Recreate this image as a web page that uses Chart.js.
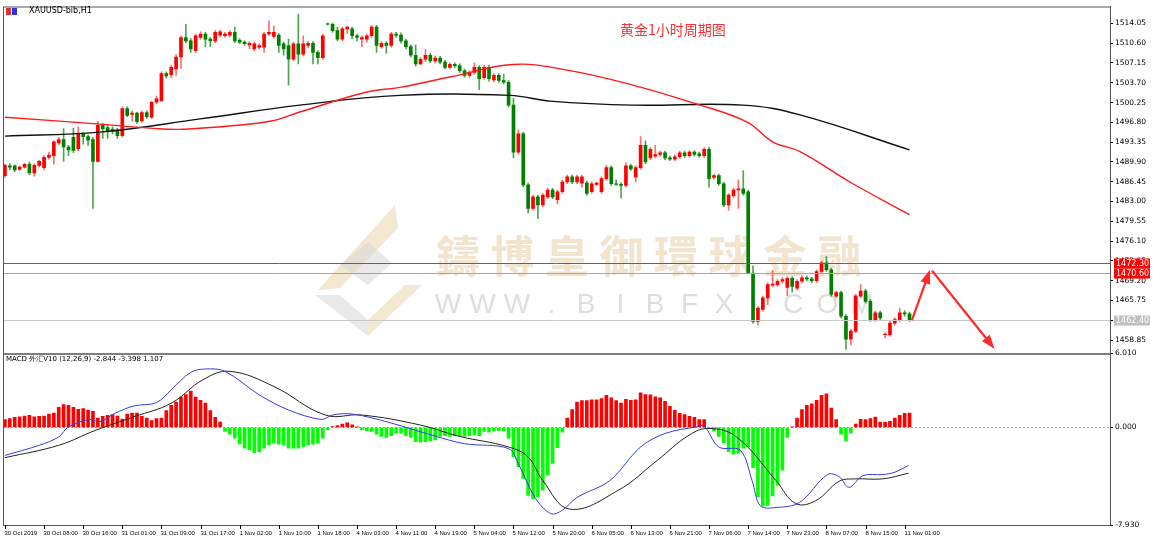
<!DOCTYPE html>
<html>
<head>
<meta charset="utf-8">
<script src="https://cdn.jsdelivr.net/npm/chart.js@4.4.1/dist/chart.umd.min.js"></script>
<style>
  body { margin: 0; background: #fff; width: 1170px; height: 542px; overflow: hidden; }
  canvas { position: absolute; left: 0; }
  #price { top: 0; }
  #macd { top: 347px; }
</style>
</head>
<body>
<canvas id="price" width="1170" height="360"></canvas>
<canvas id="macd" width="1170" height="195"></canvas>
<script>
// -----------------------------
// Data (XAUUSD H1)
// -----------------------------
const open = [
  1487.5,1489.2,1489.2,1488.6,1489.0,1489.5,1488.0,1489.3,1488.9,1490.7,1491.0,1493.2,1493.8,1492.5,1494.2,1492.2,1494.8,1494.3,1493.8,1490.0,
  1496.3,1495.9,1495.6,1495.5,1494.5,1499.2,1498.2,1498.4,1497.1,1498.5,1497.7,1500.3,1500.6,1505.3,1505.1,1506.1,1508.2,1511.6,1511.0,1509.3,
  1511.6,1512.2,1511.3,1511.0,1512.0,1511.9,1512.0,1512.5,1511.1,1510.8,1510.3,1509.6,1509.9,1509.9,1512.2,1511.8,1512.0,1510.5,1510.2,1507.8,
  1510.5,1508.7,1510.2,1510.6,1509.0,1508.1,1514.0,1513.9,1512.8,1511.3,1513.1,1513.1,1511.9,1511.3,1511.3,1511.9,1513.4,1510.0,1510.6,1510.2,
  1512.2,1512.0,1511.0,1510.0,1508.5,1507.0,1507.8,1508.5,1507.5,1508.0,1507.3,1506.4,1506.9,1506.7,1505.8,1505.0,1505.5,1506.4,1504.6,1506.4,
  1504.2,1505.0,1504.1,1503.8,1499.8,1491.6,1494.8,1485.9,1481.8,1483.8,1482.4,1483.8,1485.0,1483.3,1484.7,1486.4,1487.3,1486.4,1486.2,1486.2,
  1484.7,1486.0,1484.7,1487.0,1488.9,1486.1,1486.0,1485.8,1489.2,1487.3,1488.9,1492.8,1490.6,1490.9,1491.2,1491.5,1490.6,1490.4,1490.8,1491.5,
  1491.0,1491.6,1491.3,1491.0,1492.1,1487.2,1487.5,1486.1,1482.4,1484.0,1485.0,1485.2,1484.7,1470.5,1462.1,1464.2,1466.2,1468.4,1468.5,1469.1,
  1468.0,1469.6,1467.9,1469.1,1469.7,1469.5,1469.2,1470.8,1472.3,1471.1,1466.5,1467.1,1463.0,1459.0,1460.4,1466.5,1467.4,1465.6,1462.4,1463.6,
  1459.8,1459.8,1461.8,1462.4,1463.6,1463.4
];
const high = [
  1489.5,1489.6,1489.4,1489.2,1489.7,1489.9,1489.6,1490.2,1491.0,1491.6,1493.6,1494.2,1495.7,1492.8,1495.8,1496.0,1495.0,1494.6,1494.2,1497.0,
  1496.6,1496.3,1496.0,1495.8,1499.5,1499.5,1498.8,1498.6,1498.8,1498.8,1500.5,1501.4,1505.6,1505.6,1506.8,1508.6,1511.9,1513.9,1511.4,1512.2,
  1512.6,1512.5,1511.6,1512.8,1512.9,1512.5,1512.8,1513.4,1511.4,1511.0,1510.9,1510.8,1510.5,1512.5,1514.5,1513.6,1512.3,1510.8,1511.3,1510.8,
  1515.7,1511.9,1510.9,1510.9,1509.3,1512.2,1514.1,1514.1,1513.4,1513.4,1513.6,1513.4,1512.2,1511.9,1512.2,1513.7,1513.7,1510.9,1510.9,1512.5,
  1512.5,1512.4,1511.3,1510.3,1510.3,1508.1,1509.5,1508.9,1508.4,1508.3,1507.6,1507.2,1507.2,1507.0,1506.1,1505.8,1507.2,1506.7,1506.8,1506.8,
  1505.3,1505.3,1505.2,1504.1,1501.0,1495.5,1495.1,1486.2,1484.1,1484.1,1484.4,1485.3,1485.3,1485.0,1486.7,1487.6,1487.6,1487.6,1487.6,1486.5,
  1486.4,1486.4,1487.3,1489.3,1489.2,1486.8,1486.3,1489.8,1489.5,1489.2,1494.3,1493.6,1492.4,1492.8,1491.8,1491.8,1490.9,1491.1,1491.8,1491.8,
  1491.9,1491.9,1491.6,1492.4,1492.5,1487.8,1487.8,1486.4,1484.4,1485.3,1486.8,1488.4,1485.0,1471.8,1464.7,1466.5,1468.8,1471.0,1469.4,1469.8,
  1469.9,1469.9,1469.4,1470.0,1470.0,1469.8,1471.1,1472.6,1473.4,1471.4,1467.4,1467.4,1463.3,1460.7,1466.8,1468.5,1467.7,1465.9,1463.9,1463.9,
  1460.1,1462.1,1462.7,1464.4,1464.0,1463.7
];
const low = [
  1487.2,1488.5,1488.2,1488.4,1488.8,1487.7,1487.4,1489.0,1488.5,1490.4,1489.5,1492.9,1490.0,1491.0,1491.5,1491.8,1493.0,1492.8,1481.8,1489.9,
  1494.0,1494.0,1494.8,1494.0,1494.2,1497.8,1497.0,1496.6,1496.8,1497.5,1497.4,1500.0,1500.4,1504.5,1504.6,1505.0,1506.2,1510.7,1509.0,1509.0,
  1511.3,1510.0,1510.0,1510.7,1511.7,1511.6,1511.7,1510.7,1510.5,1510.2,1509.6,1509.3,1509.6,1509.0,1511.9,1511.5,1509.0,1508.5,1503.3,1507.5,
  1507.0,1508.4,1509.8,1507.0,1507.0,1507.8,1513.8,1512.5,1511.0,1511.0,1512.3,1511.4,1511.0,1510.0,1510.8,1511.6,1509.0,1509.7,1508.8,1509.9,
  1511.6,1510.6,1509.6,1508.2,1506.6,1506.8,1507.4,1507.2,1507.1,1507.0,1506.1,1506.1,1506.3,1505.5,1504.7,1504.7,1505.2,1502.5,1504.3,1504.0,
  1503.9,1503.8,1503.5,1499.5,1490.6,1491.3,1485.6,1481.0,1481.5,1480.0,1482.1,1483.5,1483.5,1482.6,1484.4,1486.1,1486.1,1486.1,1485.5,1484.1,
  1484.4,1485.8,1484.4,1486.7,1485.8,1485.8,1483.6,1485.5,1488.4,1486.4,1488.6,1489.6,1490.3,1490.6,1490.9,1490.3,1490.1,1490.1,1490.5,1490.7,
  1490.7,1490.9,1490.7,1490.7,1485.5,1486.9,1485.8,1482.1,1481.5,1483.7,1481.8,1484.1,1470.5,1461.8,1461.5,1463.9,1465.0,1468.1,1468.2,1468.8,
  1466.6,1467.2,1467.6,1468.8,1469.2,1468.8,1468.9,1470.5,1470.8,1466.5,1466.2,1462.7,1457.2,1458.0,1460.1,1466.2,1465.3,1462.1,1462.1,1462.4,
  1459.2,1459.5,1461.5,1462.1,1463.0,1462.1
];
const close = [
  1489.3,1489.0,1488.5,1489.0,1489.5,1488.0,1489.3,1490.0,1490.7,1491.1,1493.4,1493.8,1492.5,1492.0,1491.9,1494.8,1494.3,1493.7,1490.0,1496.3,
  1495.7,1495.3,1495.2,1494.5,1499.2,1498.0,1498.4,1496.9,1498.5,1497.8,1500.3,1500.9,1505.3,1504.9,1506.4,1508.2,1511.6,1511.0,1509.6,1511.9,
  1512.2,1511.3,1511.0,1512.5,1512.6,1512.2,1512.5,1511.0,1510.8,1510.5,1510.6,1510.5,1510.2,1512.2,1512.5,1512.5,1510.2,1509.6,1507.8,1510.5,
  1508.7,1510.5,1510.6,1509.0,1508.1,1511.9,1513.9,1512.8,1511.3,1513.1,1513.4,1511.9,1511.6,1511.6,1511.9,1513.4,1510.2,1510.6,1510.2,1512.2,
  1512.0,1511.0,1510.0,1508.5,1507.0,1507.8,1508.5,1507.5,1508.0,1507.3,1506.4,1506.9,1506.7,1505.8,1505.0,1505.5,1506.4,1504.4,1506.4,1504.4,
  1505.0,1504.1,1503.8,1499.8,1491.6,1494.8,1485.9,1481.8,1483.8,1482.4,1484.1,1485.0,1483.8,1484.7,1486.4,1487.3,1486.4,1487.3,1487.3,1484.4,
  1486.1,1486.2,1487.0,1488.9,1486.1,1486.0,1485.8,1489.2,1488.7,1488.9,1492.8,1489.9,1492.1,1491.2,1491.5,1490.6,1490.4,1490.8,1491.5,1491.0,
  1491.6,1491.2,1491.0,1492.1,1487.0,1487.5,1486.1,1482.4,1484.1,1485.0,1485.2,1484.4,1470.5,1462.1,1464.4,1466.2,1468.5,1468.6,1469.1,1469.4,
  1469.6,1468.2,1469.1,1469.7,1469.5,1469.2,1470.8,1472.3,1471.1,1466.8,1467.1,1463.0,1459.0,1460.4,1466.5,1467.4,1465.6,1462.4,1463.6,1462.7,
  1459.9,1461.8,1462.4,1463.6,1463.4,1462.4
];

// moving averages, points
const maRedIdx = [0, 19.4, 29.6, 36.4, 53.6, 60.3, 74, 80.8, 91, 103.9, 115, 128.4, 140.7, 151.7, 157, 162.6, 172.8, 185];
const maRedVal = [1497.7, 1496.5, 1495.8, 1495.6, 1496.9, 1498.6, 1502.1, 1502.9, 1504.7, 1506.9, 1505.9, 1503.3, 1500.2, 1496.9, 1493.4, 1491.7, 1486.4, 1480.7];
const maBlackIdx = [0, 19.4, 39.9, 60.3, 80.8, 103.3, 111.5, 128.4, 150.9, 162.6, 185];
const maBlackVal = [1494.4, 1495.1, 1497.4, 1499.8, 1501.5, 1501.5, 1500.5, 1499.8, 1499.8, 1498.1, 1492.0];

// MACD
const macdHist = [
  0.63,0.71,0.82,0.87,0.93,0.98,0.87,0.90,0.93,1.09,1.17,1.64,1.86,1.80,1.64,1.47,1.53,1.42,1.31,0.76,
  0.90,0.98,1.04,0.93,0.68,1.09,1.17,1.17,0.90,0.76,0.55,0.71,0.76,1.37,1.80,2.07,2.46,2.68,2.95,2.46,
  2.21,1.99,1.37,0.82,0.44,-0.33,-0.55,-0.87,-1.34,-1.69,-1.83,-2.05,-1.97,-1.69,-1.42,-1.28,-1.37,-1.42,-1.69,-1.69,
  -1.69,-1.56,-1.42,-1.37,-1.28,-0.87,-0.19,0.08,0.16,0.27,0.38,0.22,0.02,-0.19,-0.27,-0.33,-0.55,-0.74,-0.82,-0.66,
  -0.46,-0.46,-0.66,-0.82,-1.15,-1.20,-1.15,-1.09,-1.01,-0.74,-0.66,-0.74,-0.66,-0.66,-0.74,-0.66,-0.60,-0.66,-0.33,-0.38,
  -0.27,-0.27,-0.27,-0.87,-2.38,-3.19,-4.15,-5.52,-5.79,-5.65,-5.10,-3.88,-2.92,-1.64,-0.38,0.76,1.45,2.07,2.18,2.18,
  2.24,2.24,2.35,2.62,2.40,2.18,1.99,2.29,2.21,2.24,2.81,2.68,2.65,2.48,2.40,2.13,1.72,1.39,1.15,1.04,
  0.90,0.82,0.63,0.63,-0.05,-0.27,-0.74,-1.23,-1.97,-2.18,-2.10,-1.69,-1.56,-3.28,-5.65,-6.39,-6.33,-5.57,-4.70,-3.47,
  -0.82,0.02,0.76,1.45,1.80,1.91,2.21,2.62,2.73,1.58,0.63,-0.55,-1.09,-0.46,0.27,0.66,0.63,0.71,0.85,0.44,
  0.44,0.49,0.76,0.98,1.15,1.17
];
const macdMainIdx = [0, 7, 11, 13, 17.4, 19.4, 22.5, 26.4, 31, 34, 38, 41, 45, 52, 58, 64.7, 67, 71, 78.8, 88, 94, 103, 105, 108.4, 111.6, 114, 117, 123.7, 130, 135, 141.5, 143, 146, 150.4, 152.8, 154.5, 157.7, 162.5, 168.2, 170.6, 172.6, 175.5, 179.5, 182, 184.8];
const macdMainVal = [-2.27, -1.45, -0.77, 0.05, 0.65, 0.46, 1.15, 1.75, 2.02, 3.06, 4.48, 4.75, 4.56, 2.65, 1.42, 0.65, 1.01, 1.09, 0.38, -0.71, -1.32, -1.72, -2.95, -5.69, -7.0, -6.73, -5.69, -4.32, -1.59, -0.49, 0.05, 0.11, -1.59, -1.86, -4.32, -6.37, -6.51, -6.10, -3.83, -4.0, -4.87, -3.91, -3.83, -3.64, -3.09];
const macdSignalIdx = [0, 11, 18.6, 26.4, 34, 40.5, 46, 55, 65.5, 73, 85, 92.8, 103, 107, 110, 115.5, 125.3, 133.4, 139.9, 144, 149.6, 157.7, 161.7, 165.8, 170.6, 173.9, 179.5, 184.8];
const macdSignalVal = [-2.46, -1.45, -0.22, 0.87, 1.97, 3.88, 4.56, 3.33, 1.01, 1.01, 0.19, -0.71, -1.59, -2.41, -4.32, -6.64, -5.14, -2.68, -0.63, -0.08, -0.77, -4.32, -6.18, -5.96, -4.38, -4.18, -4.18, -3.72];

// axis ticks
const priceTicks = [1514.05, 1510.60, 1507.15, 1503.70, 1500.25, 1496.80, 1493.35, 1489.90, 1486.45, 1483.00, 1479.55, 1476.10, 1472.65, 1469.20, 1465.75, 1462.30, 1458.85];
const timeLabels = ["30 Oct 2019", "30 Oct 08:00", "30 Oct 16:00", "31 Oct 01:00", "31 Oct 09:00", "31 Oct 17:00", "1 Nov 02:00", "1 Nov 10:00", "1 Nov 18:00", "4 Nov 03:00", "4 Nov 11:00", "4 Nov 19:00", "5 Nov 04:00", "5 Nov 12:00", "5 Nov 20:00", "6 Nov 05:00", "6 Nov 13:00", "6 Nov 21:00", "7 Nov 06:00", "7 Nov 14:00", "7 Nov 23:00", "8 Nov 07:00", "8 Nov 15:00", "11 Nov 01:00"];
const timeIdx = [0, 8, 16, 24, 32, 40, 48, 56, 64, 72, 80, 88, 96, 104, 112, 120, 128, 136, 144, 152, 160, 168, 176, 184];

// levels and projection arrows
const levels = [
  { price: 1472.30, color: "#ff2020", label: "1472.30", box: "#ff0000" },
  { price: 1470.60, color: "#ff8080", label: "1470.60", box: "#ff0000" },
  { price: 1462.40, color: "#c8c8c8", label: "1462.40", box: "#c0c0c0" }
];
const arrowIdx = [185.5, 189.2, 202.4];
const arrowVal = [1462.3, 1471.1, 1457.3];

const X_MIN = -0.4, X_MAX = 226;
const UP = "#ff0000", DOWN = "#008000";
const FONT = "'DejaVu Sans', sans-serif";

// -----------------------------
// Helpers
// -----------------------------
function pts(xs, ys) {
  return xs.map((x, i) => ({ x: x, y: ys[i] }));
}

function fixedWidth(w) {
  return s => { s.width = w; };
}

function drawArrow(ctx, x1, y1, x2, y2) {
  const ang = Math.atan2(y2 - y1, x2 - x1);
  const len = 14, wid = 5;
  ctx.beginPath();
  ctx.moveTo(x1, y1);
  ctx.lineTo(x2 - Math.cos(ang) * len * 0.7, y2 - Math.sin(ang) * len * 0.7);
  ctx.stroke();
  ctx.beginPath();
  ctx.moveTo(x2, y2);
  ctx.lineTo(x2 - Math.cos(ang) * len + Math.sin(ang) * wid, y2 - Math.sin(ang) * len - Math.cos(ang) * wid);
  ctx.lineTo(x2 - Math.cos(ang) * len - Math.sin(ang) * wid, y2 - Math.sin(ang) * len + Math.cos(ang) * wid);
  ctx.closePath();
  ctx.fill();
}

// -----------------------------
// Price panel
// -----------------------------
const candleColors = close.map((c, i) => (c >= open[i] ? UP : DOWN));
const wickColors = close.map((c, i) => (c >= open[i] ? "rgba(255,60,60,0.75)" : "rgba(0,128,0,0.7)"));

const decorPlugin = {
  id: "decor",
  beforeDatasetsDraw(chart) {
    const ctx = chart.ctx;
    ctx.save();
    // logo
    ctx.fillStyle = "rgba(236,214,170,0.55)";
    ctx.beginPath();
    ctx.moveTo(395, 205); ctx.lineTo(398, 228); ctx.lineTo(340, 288); ctx.lineTo(318, 290);
    ctx.closePath(); ctx.fill();
    ctx.fillStyle = "rgba(215,215,215,0.55)";
    ctx.beginPath();
    ctx.moveTo(315, 295); ctx.lineTo(368, 336); ctx.lineTo(368, 320); ctx.lineTo(340, 295);
    ctx.closePath(); ctx.fill();
    ctx.beginPath();
    ctx.moveTo(340, 265); ctx.lineTo(368, 242); ctx.lineTo(392, 263); ctx.lineTo(368, 285);
    ctx.closePath(); ctx.fill();
    ctx.fillStyle = "rgba(236,214,170,0.55)";
    ctx.beginPath();
    ctx.moveTo(368, 320); ctx.lineTo(368, 336); ctx.lineTo(422, 285); ctx.lineTo(405, 285);
    ctx.closePath(); ctx.fill();
    // watermark text
    ctx.fillStyle = "rgba(232,205,165,0.55)";
    ctx.font = "bold 44px 'Noto Sans CJK TC', sans-serif";
    ctx.textBaseline = "middle";
    ctx.textAlign = "center";
    const wm = "鑄博皇御環球金融";
    for (let i = 0; i < wm.length; i++) ctx.fillText(wm[i], 458 + i * 54.5, 256);
    ctx.fillStyle = "rgba(200,200,200,0.6)";
    ctx.font = "28px 'Liberation Sans', sans-serif";
    const url = "WWW.BIBFX.COM";
    for (let i = 0; i < url.length; i++) ctx.fillText(url[i], 448 + i * 34.5, 305);
    ctx.restore();
  },
  afterDatasetsDraw(chart) {
    const ctx = chart.ctx;
    const a = chart.chartArea;
    const xs = chart.scales.x, ys = chart.scales.y;
    ctx.save();
    // level lines
    levels.forEach(l => {
      const y = Math.round(ys.getPixelForValue(l.price)) + 0.5;
      ctx.strokeStyle = l.color;
      ctx.lineWidth = 1;
      ctx.beginPath(); ctx.moveTo(a.left, y); ctx.lineTo(a.right, y); ctx.stroke();
      ctx.fillStyle = l.box;
      ctx.fillRect(a.right + 4, y - 5, 36, 10);
      ctx.fillStyle = "#fff";
      ctx.font = "8px " + FONT;
      ctx.textAlign = "left";
      ctx.textBaseline = "middle";
      ctx.fillText(l.label, a.right + 6, y);
    });
    // projection arrows
    ctx.strokeStyle = "#ff2a2a";
    ctx.fillStyle = "#ff2a2a";
    ctx.lineWidth = 2.2;
    const p = arrowIdx.map((x, i) => [xs.getPixelForValue(x), ys.getPixelForValue(arrowVal[i])]);
    drawArrow(ctx, p[0][0], p[0][1], p[1][0], p[1][1]);
    drawArrow(ctx, p[1][0] + 2, p[1][1] + 1, p[2][0], p[2][1]);
    // frame
    ctx.strokeStyle = "#555";
    ctx.lineWidth = 1;
    ctx.strokeRect(a.left + 0.5, a.top + 0.5, a.right - a.left, a.bottom - a.top);
    // header texts
    ctx.fillStyle = "#d33";
    ctx.fillRect(6, 8, 5, 7);
    ctx.fillStyle = "#33d";
    ctx.fillRect(12, 8, 5, 7);
    ctx.fillStyle = "#000";
    ctx.font = "8px " + FONT;
    ctx.textAlign = "left";
    ctx.textBaseline = "middle";
    ctx.fillText("XAUUSD-bib,H1", 29, 11);
    ctx.fillStyle = "#ff3030";
    ctx.font = "14px 'Noto Sans CJK SC', sans-serif";
    ctx.fillText("黄金1小时周期图", 620, 30);
    ctx.restore();
  }
};

new Chart(document.getElementById("price"), {
  type: "bar",
  data: {
    datasets: [
      {
        type: "line", data: pts(maRedIdx, maRedVal), borderColor: "#ff1a1a", borderWidth: 1.4,
        pointRadius: 0, tension: 0.4, order: 0
      },
      {
        type: "line", data: pts(maBlackIdx, maBlackVal), borderColor: "#111", borderWidth: 1.4,
        pointRadius: 0, tension: 0.4, order: 0
      },
      {
        data: close.map((c, i) => ({ x: i, y: [open[i], c] })), backgroundColor: candleColors,
        barThickness: 3, grouped: false, order: 1
      },
      {
        data: close.map((c, i) => ({ x: i, y: [low[i], high[i]] })), backgroundColor: wickColors,
        barThickness: 1, grouped: false, order: 2
      }
    ]
  },
  options: {
    responsive: false,
    animation: false,
    layout: { padding: { left: 3, top: 4, right: 0, bottom: 1 } },
    plugins: { legend: { display: false }, tooltip: { enabled: false } },
    scales: {
      x: { type: "linear", min: X_MIN, max: X_MAX, offset: false, display: false },
      y: {
        position: "right", min: 1456.5, max: 1517.0,
        afterFit: fixedWidth(60),
        afterBuildTicks: s => { s.ticks = priceTicks.map(v => ({ value: v })); },
        ticks: { color: "#000", font: { size: 7.5, family: FONT }, padding: 2, callback: v => v.toFixed(2) },
        grid: { drawOnChartArea: false, drawTicks: true, tickLength: 3, color: "#000" },
        border: { display: true, color: "#000" }
      }
    }
  },
  plugins: [decorPlugin]
});

// -----------------------------
// MACD panel
// -----------------------------
const macdPlugin = {
  id: "macdDecor",
  beforeDatasetsDraw(chart) {
    const ctx = chart.ctx;
    const a = chart.chartArea;
    const y0 = Math.round(chart.scales.y.getPixelForValue(0)) + 0.5;
    ctx.save();
    ctx.strokeStyle = "#aaa";
    ctx.setLineDash([2, 2]);
    ctx.beginPath(); ctx.moveTo(a.left, y0); ctx.lineTo(a.right, y0); ctx.stroke();
    ctx.restore();
  },
  afterDatasetsDraw(chart) {
    const ctx = chart.ctx;
    const a = chart.chartArea;
    const xs = chart.scales.x;
    ctx.save();
    ctx.strokeStyle = "#555";
    ctx.lineWidth = 1;
    ctx.strokeRect(a.left + 0.5, a.top + 0.5, a.right - a.left, a.bottom - a.top);
    ctx.fillStyle = "#000";
    ctx.font = "7px " + FONT;
    ctx.textAlign = "left";
    ctx.textBaseline = "middle";
    ctx.fillText("MACD 外汇V10 (12,26,9) -2.844 -3.398 1.107", a.left + 3, a.top + 6);
    // time labels
    ctx.textBaseline = "top";
    ctx.strokeStyle = "#000";
    ctx.font = "6px 'Liberation Sans', sans-serif";
    timeIdx.forEach((idx, i) => {
      const x = Math.round(xs.getPixelForValue(idx)) + 0.5;
      ctx.beginPath(); ctx.moveTo(x, a.bottom); ctx.lineTo(x, a.bottom + 4); ctx.stroke();
      ctx.fillText(timeLabels[i], x - 1, a.bottom + 5);
    });
    ctx.restore();
  }
};

new Chart(document.getElementById("macd"), {
  type: "bar",
  data: {
    datasets: [
      {
        type: "line", data: pts(macdMainIdx, macdMainVal), borderColor: "#3a3ae0", borderWidth: 1,
        pointRadius: 0, tension: 0.35, order: 0
      },
      {
        type: "line", data: pts(macdSignalIdx, macdSignalVal), borderColor: "#222", borderWidth: 1,
        pointRadius: 0, tension: 0.4, order: 0
      },
      {
        data: macdHist.map((v, i) => ({ x: i, y: v })),
        backgroundColor: macdHist.map(v => (v >= 0 ? "#ff0000" : "#00ff00")),
        barThickness: 3, grouped: false, order: 1
      }
    ]
  },
  options: {
    responsive: false,
    animation: false,
    layout: { padding: { left: 3, top: 0, right: 0, bottom: 0 } },
    plugins: { legend: { display: false }, tooltip: { enabled: false } },
    scales: {
      x: {
        type: "linear", min: X_MIN, max: X_MAX, offset: false,
        afterFit: s => { s.height = 17; },
        ticks: { display: false },
        grid: { display: false },
        border: { display: false }
      },
      y: {
        position: "right", min: -7.93, max: 6.01,
        afterFit: fixedWidth(60),
        afterBuildTicks: s => { s.ticks = [6.01, 0, -7.93].map(v => ({ value: v })); },
        ticks: { color: "#000", font: { size: 7.5, family: FONT }, padding: 2, callback: v => v.toFixed(3) },
        grid: { drawOnChartArea: false, drawTicks: true, tickLength: 3, color: "#000" },
        border: { display: true, color: "#000" }
      }
    }
  },
  plugins: [macdPlugin]
});
</script>
</body>
</html>
